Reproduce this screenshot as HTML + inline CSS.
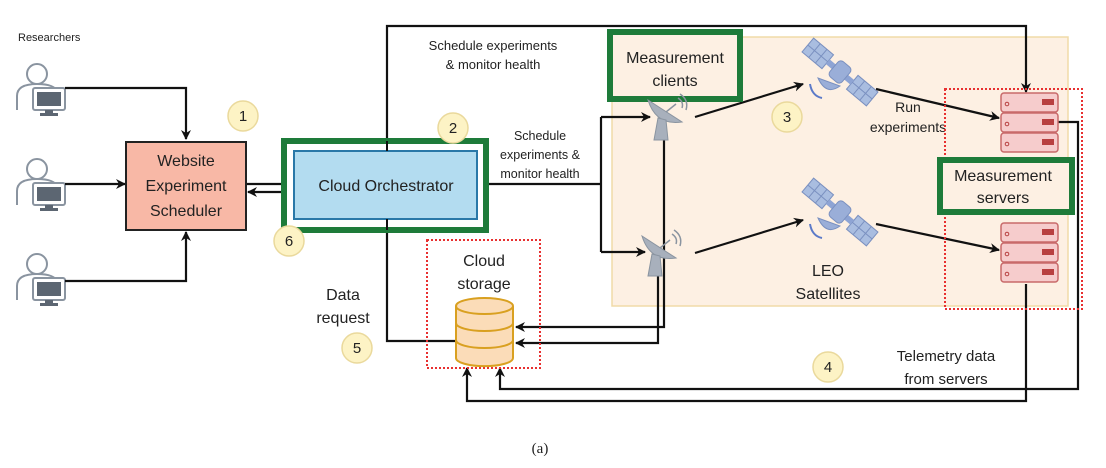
<!DOCTYPE html>
<html><head><meta charset="utf-8"><style>
html,body{margin:0;padding:0;background:#fff}
svg{display:block}
text{font-family:"Liberation Sans",Arial,sans-serif;fill:#222}
</style></head><body>
<svg width="1106" height="468" viewBox="0 0 1106 468" xmlns="http://www.w3.org/2000/svg">
<defs>
<marker id="a" markerWidth="10" markerHeight="10" refX="9" refY="5" orient="auto" markerUnits="userSpaceOnUse">
<path d="M0,0 L10,5 L0,10 L3,5 Z" fill="#111"/></marker>
<g id="user">
<circle cx="22" cy="14" r="10" fill="#fff" stroke="#8a94a0" stroke-width="2"/>
<path d="M2,50 V36 Q2,24 22,24 Q40,24 42,32" fill="#fff" stroke="#8a94a0" stroke-width="2"/>
<rect x="18" y="28" width="32" height="22" rx="2" fill="#fff" stroke="#8a94a0" stroke-width="2"/>
<rect x="22" y="32" width="24" height="14" fill="#5c6672"/>
<rect x="30" y="50" width="8" height="3" fill="#5c6672"/>
<rect x="25" y="53" width="18" height="3" fill="#5c6672"/>
</g>
<g id="sat">
<g transform="rotate(40)">
<rect x="-42" y="-9" width="26" height="18" fill="#a9bde0" stroke="#7a90c0"/>
<path d="M-33.3,-9V9M-24.6,-9V9M-42,0H-16" stroke="#7a90c0"/>
<rect x="16" y="-9" width="26" height="18" fill="#a9bde0" stroke="#7a90c0"/>
<path d="M24.6,-9V9M33.3,-9V9M16,0H42" stroke="#7a90c0"/>
<rect x="-16" y="-3" width="32" height="6" fill="#8ea4d4"/>
<rect x="-8" y="-10" width="16" height="20" rx="4" fill="#9aaed8" stroke="#7a90c0"/>
</g>
<path d="M-22,6 Q-14,24 0,14 Z" fill="#9aaed8" stroke="#7a90c0"/>
<path d="M-30,12 Q-28,24 -18,26" fill="none" stroke="#5c7ac8" stroke-width="2"/>
</g>
<g id="dish">
<path d="M-12,-12 Q-4,14 22,10 Z" fill="#a8b0bc" stroke="#8a94a0"/>
<path d="M-2,6 L-6,28 H8 L6,8 Z" fill="#a8b0bc" stroke="#8a94a0"/>
<path d="M6,0 L16,-8" stroke="#8a94a0" stroke-width="1.5"/>
<path d="M18,-14 Q24,-10 22,-4 M20,-18 Q29,-12 26,-2" fill="none" stroke="#8a94a0" stroke-width="1.5"/>
</g>
<g id="srv">
<rect x="0" y="0" width="57" height="19" rx="3" fill="#f6cccc" stroke="#c86a6a" stroke-width="1.5"/>
<rect x="0" y="20" width="57" height="19" rx="3" fill="#f6cccc" stroke="#c86a6a" stroke-width="1.5"/>
<rect x="0" y="40" width="57" height="19" rx="3" fill="#f6cccc" stroke="#c86a6a" stroke-width="1.5"/>
<rect x="41" y="6" width="12" height="6" fill="#b84040"/><rect x="41" y="26" width="12" height="6" fill="#b84040"/><rect x="41" y="46" width="12" height="6" fill="#b84040"/>
<circle cx="6" cy="11" r="1.8" fill="none" stroke="#b84040"/><circle cx="6" cy="31" r="1.8" fill="none" stroke="#b84040"/><circle cx="6" cy="51" r="1.8" fill="none" stroke="#b84040"/>
</g>
</defs>

<rect x="612" y="37" width="456" height="269" fill="#fdf0e3" stroke="#f0dba8" stroke-width="1.5"/>

<text x="18" y="41" font-size="11">Researchers</text>
<use href="#user" x="15" y="60"/>
<use href="#user" x="15" y="155"/>
<use href="#user" x="15" y="250"/>

<g fill="none" stroke="#111" stroke-width="2.2">
<path d="M65,88 H186 V139" marker-end="url(#a)"/>
<path d="M65,184 H125" marker-end="url(#a)"/>
<path d="M65,281 H186 V232" marker-end="url(#a)"/>
<path d="M247,184 H294" marker-end="url(#a)"/>
<path d="M294,192 H248" marker-end="url(#a)"/>
<path d="M387,151 V26 H1026 V92" marker-end="url(#a)"/>
<path d="M488,184 H601"/>
<path d="M601,117 V252"/>
<path d="M601,117 H650" marker-end="url(#a)"/>
<path d="M601,252 H645" marker-end="url(#a)"/>
<path d="M456,341 H387 V221" marker-end="url(#a)"/>
<path d="M664,140 V327 H516" marker-end="url(#a)"/>
<path d="M658,275 V343 H516" marker-end="url(#a)"/>
<path d="M695,117 L803,84" marker-end="url(#a)"/>
<path d="M695,253 L803,220" marker-end="url(#a)"/>
<path d="M876,89 L999,118" marker-end="url(#a)"/>
<path d="M876,224 L999,250" marker-end="url(#a)"/>
<path d="M1058,122 H1078 V389 H500 V368" marker-end="url(#a)"/>
<path d="M1026,284 V401 H467 V368" marker-end="url(#a)"/>
</g>

<rect x="126" y="142" width="120" height="88" fill="#f8b8a6" stroke="#222" stroke-width="2"/>
<text x="186" y="166" font-size="16" text-anchor="middle">Website</text>
<text x="186" y="191" font-size="16" text-anchor="middle">Experiment</text>
<text x="186" y="216" font-size="16" text-anchor="middle">Scheduler</text>

<rect x="284" y="141" width="202" height="89" fill="#fff" stroke="#1e7b3a" stroke-width="6"/>
<rect x="294" y="151" width="183" height="68" fill="#b3dcf0" stroke="#2a78a8" stroke-width="2"/>
<text x="386" y="191" font-size="16" text-anchor="middle">Cloud Orchestrator</text>
<path d="M387,141 V151 M387,219 V230" stroke="#111" stroke-width="2"/>

<text x="493" y="50" font-size="13" text-anchor="middle">Schedule experiments</text>
<text x="493" y="69" font-size="13" text-anchor="middle">&amp; monitor health</text>
<text x="540" y="140" font-size="12.5" text-anchor="middle">Schedule</text>
<text x="540" y="159" font-size="12.5" text-anchor="middle">experiments &amp;</text>
<text x="540" y="178" font-size="12.5" text-anchor="middle">monitor health</text>

<rect x="427" y="240" width="113" height="128" fill="none" stroke="#e83030" stroke-width="2" stroke-dasharray="2,2"/>
<text x="484" y="266" font-size="16" text-anchor="middle">Cloud</text>
<text x="484" y="289" font-size="16" text-anchor="middle">storage</text>
<path d="M456,306 V358 A28,8 0 0 0 513,358 V306" fill="#fbdcb8" stroke="#d9a020" stroke-width="2"/>
<ellipse cx="484.5" cy="306" rx="28.5" ry="8" fill="#fbdcb8" stroke="#d9a020" stroke-width="2"/>
<path d="M456,323 A28.5,8 0 0 0 513,323 M456,340 A28.5,8 0 0 0 513,340" fill="none" stroke="#d9a020" stroke-width="2"/>

<text x="343" y="300" font-size="16" text-anchor="middle">Data</text>
<text x="343" y="323" font-size="16" text-anchor="middle">request</text>

<rect x="610" y="32" width="130" height="67" fill="#fdf0e3" stroke="#1e7b3a" stroke-width="6"/>
<text x="675" y="63" font-size="16" text-anchor="middle">Measurement</text>
<text x="675" y="86" font-size="16" text-anchor="middle">clients</text>

<use href="#dish" x="660" y="112"/>
<use href="#dish" x="654" y="248"/>
<use href="#sat" x="840" y="72"/>
<use href="#sat" x="840" y="212"/>

<text x="908" y="112" font-size="14" text-anchor="middle">Run</text>
<text x="908" y="132" font-size="14" text-anchor="middle">experiments</text>
<text x="828" y="276" font-size="16" text-anchor="middle">LEO</text>
<text x="828" y="299" font-size="16" text-anchor="middle">Satellites</text>

<rect x="945" y="89" width="137" height="220" fill="none" stroke="#e83030" stroke-width="2" stroke-dasharray="2,2"/>
<use href="#srv" x="1001" y="93"/>
<use href="#srv" x="1001" y="223"/>
<rect x="940" y="160" width="132" height="52" fill="#fdf0e3" stroke="#1e7b3a" stroke-width="6"/>
<text x="1003" y="181" font-size="16" text-anchor="middle">Measurement</text>
<text x="1003" y="203" font-size="16" text-anchor="middle">servers</text>

<text x="946" y="361" font-size="15" text-anchor="middle">Telemetry data</text>
<text x="946" y="384" font-size="15" text-anchor="middle">from servers</text>

<g font-size="15" text-anchor="middle">
<circle cx="243" cy="116" r="15" fill="#fdf3c5" stroke="#ead99c" stroke-width="1.5"/><text x="243" y="121">1</text>
<circle cx="453" cy="128" r="15" fill="#fdf3c5" stroke="#ead99c" stroke-width="1.5"/><text x="453" y="133">2</text>
<circle cx="787" cy="117" r="15" fill="#fdf3c5" stroke="#ead99c" stroke-width="1.5"/><text x="787" y="122">3</text>
<circle cx="828" cy="367" r="15" fill="#fdf3c5" stroke="#ead99c" stroke-width="1.5"/><text x="828" y="372">4</text>
<circle cx="357" cy="348" r="15" fill="#fdf3c5" stroke="#ead99c" stroke-width="1.5"/><text x="357" y="353">5</text>
<circle cx="289" cy="241" r="15" fill="#fdf3c5" stroke="#ead99c" stroke-width="1.5"/><text x="289" y="246">6</text>
</g>

<text x="540" y="453" font-size="15" text-anchor="middle" style="font-family:'Liberation Serif',serif">(a)</text>
</svg>
</body></html>
